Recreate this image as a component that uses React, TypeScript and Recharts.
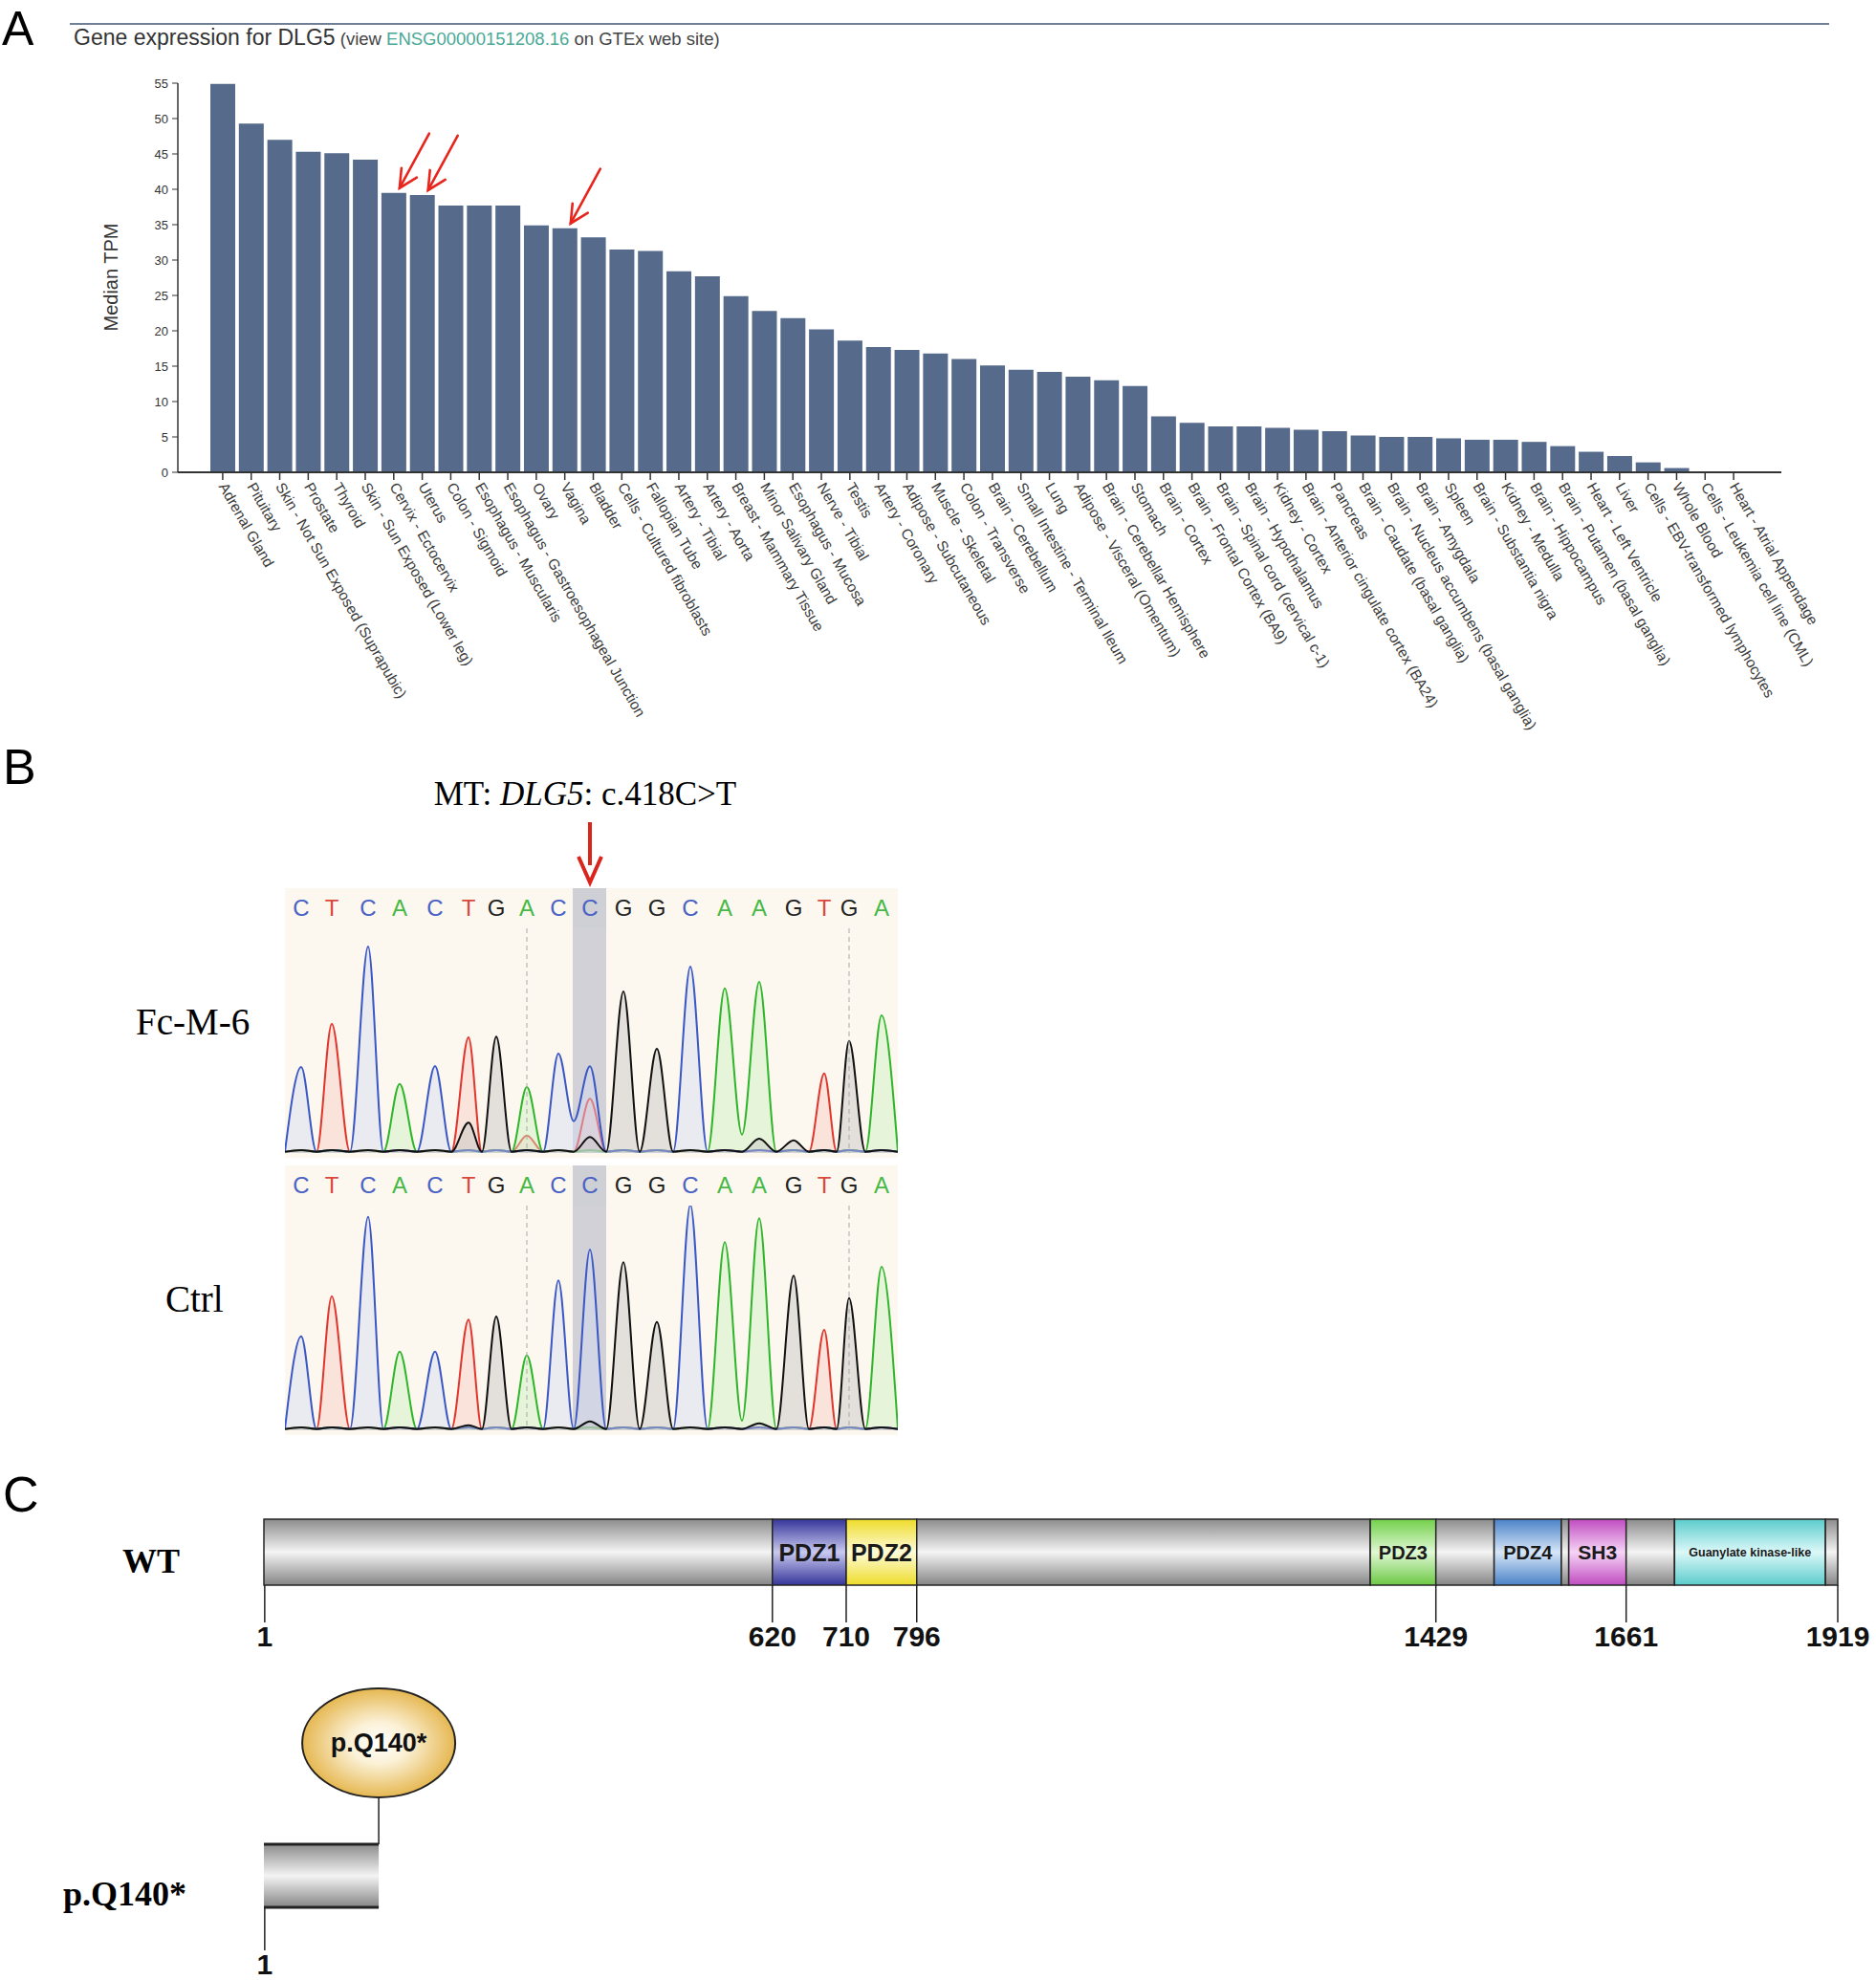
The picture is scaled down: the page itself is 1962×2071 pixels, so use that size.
import React from 'react';
import {
  BarChart, Bar, XAxis, YAxis, LabelList,
  AreaChart, Area, ReferenceArea, ReferenceLine,
} from 'recharts';

// ---------- A: GTEx median TPM for DLG5 ----------
const tissues = [
  'Adrenal Gland', 'Pituitary', 'Skin - Not Sun Exposed (Suprapubic)', 'Prostate', 'Thyroid',
  'Skin - Sun Exposed (Lower leg)', 'Cervix - Ectocervix', 'Uterus', 'Colon - Sigmoid',
  'Esophagus - Muscularis', 'Esophagus - Gastroesophageal Junction', 'Ovary', 'Vagina', 'Bladder',
  'Cells - Cultured fibroblasts', 'Fallopian Tube', 'Artery - Tibial', 'Artery - Aorta',
  'Breast - Mammary Tissue', 'Minor Salivary Gland', 'Esophagus - Mucosa', 'Nerve - Tibial', 'Testis',
  'Artery - Coronary', 'Adipose - Subcutaneous', 'Muscle - Skeletal', 'Colon - Transverse',
  'Brain - Cerebellum', 'Small Intestine - Terminal Ileum', 'Lung', 'Adipose - Visceral (Omentum)',
  'Brain - Cerebellar Hemisphere', 'Stomach', 'Brain - Cortex', 'Brain - Frontal Cortex (BA9)',
  'Brain - Spinal cord (cervical c-1)', 'Brain - Hypothalamus', 'Kidney - Cortex',
  'Brain - Anterior cingulate cortex (BA24)', 'Pancreas', 'Brain - Caudate (basal ganglia)',
  'Brain - Nucleus accumbens (basal ganglia)', 'Brain - Amygdala', 'Spleen', 'Brain - Substantia nigra',
  'Kidney - Medulla', 'Brain - Hippocampus', 'Brain - Putamen (basal ganglia)', 'Heart - Left Ventricle',
  'Liver', 'Cells - EBV-transformed lymphocytes', 'Whole Blood', 'Cells - Leukemia cell line (CML)',
  'Heart - Atrial Appendage',
];

const medianTPM = [
  54.9, 49.3, 47.0, 45.3, 45.1, 44.2, 39.5, 39.2, 37.7, 37.7, 37.7, 34.9, 34.5, 33.2, 31.5, 31.3, 28.4,
  27.7, 24.9, 22.8, 21.8, 20.2, 18.6, 17.7, 17.3, 16.8, 16.0, 15.1, 14.5, 14.2, 13.5, 13.0, 12.2,
  7.9, 7.0, 6.5, 6.5, 6.3, 6.0, 5.8, 5.2, 5.0, 5.0, 4.8, 4.6, 4.6, 4.3, 3.7, 2.9, 2.3, 1.4, 0.6, 0, 0,
];

const arrowTissues = ['Cervix - Ectocervix', 'Uterus', 'Vagina'];
const tpmTicks = [0, 5, 10, 15, 20, 25, 30, 35, 40, 45, 50, 55];

// ---------- B: Sanger traces ----------
const bases = ['C', 'T', 'C', 'A', 'C', 'T', 'G', 'A', 'C', 'C', 'G', 'G', 'C', 'A', 'A', 'G', 'T', 'G', 'A'];
const basePos = [17, 49, 87, 120, 157, 192, 221, 253, 286, 319, 354, 389, 424, 460, 496, 532, 564, 590, 624];
const valleyPos = [0, 33, 68, 103, 138, 174, 206, 237, 270, 302, 336, 371, 406, 442, 478, 514, 548, 577, 607, 641];

const mtHeights = [270, 405, 648, 217, 273, 363, 365, 207, 312, 272, 507, 327, 585, 517, 537, 407, 250, 352, 432];
const mtMinor = [
  { i: 9, base: 'T', h: 170 }, { i: 5, base: 'G', h: 95 }, { i: 7, base: 'T', h: 55 },
  { i: 9, base: 'G', h: 50 }, { i: 14, base: 'G', h: 45 }, { i: 15, base: 'G', h: 40 },
];
const mtValleys = [{ j: 9, base: 'C', h: 100 }, { j: 14, base: 'A', h: 58 }];

const ctrlHeights = [295, 420, 670, 247, 247, 347, 357, 235, 470, 567, 527, 340, 708, 590, 665, 485, 315, 415, 513];
const ctrlMinor = [{ i: 9, base: 'G', h: 28 }, { i: 5, base: 'G', h: 16 }, { i: 14, base: 'G', h: 22 }];
const ctrlValleys = [{ j: 14, base: 'A', h: 30 }];

const mutIndex = 9;
const dashedAt = [253, 590];
const highlightRange = [301, 336];

// ---------- C: DLG5 protein domains ----------
const domainNames = ['', 'PDZ1', 'PDZ2', '', 'PDZ3', '', 'PDZ4', '', 'SH3', '', 'Guanylate kinase-like', ''];
const domainLengths = [620, 90, 86, 553, 80, 71, 82, 9, 70, 59, 184, 15];
const domainKinds = ['gray', 'pdz1', 'pdz2', 'gray', 'pdz3', 'gray', 'pdz4', 'gray', 'sh3', 'gray', 'gk', 'gray'];
const wtTicks = [1, 620, 710, 796, 1429, 1661, 1919];
const proteinLength = 1919;
const truncatedLength = 140;

const gradients: Record<string, string[]> = {
  gray: ['#8c8c8c', '#f4f4f4', '#858585'],
  pdz1: ['#35359a', '#c9c9f0', '#35359a'],
  pdz2: ['#eedc2a', '#fffbd8', '#eedc2a'],
  pdz3: ['#72d04a', '#e0f8d4', '#6cc844'],
  pdz4: ['#4a82c8', '#d6e6f8', '#4a82c8'],
  sh3: ['#c04cc0', '#f6d4f6', '#c04cc0'],
  gk: ['#5ccccc', '#dcf8f8', '#5ccccc'],
};

const baseStroke: Record<string, string> = { A: '#2fb52a', C: '#3a57c4', G: '#111111', T: '#e0362e' };
const baseFill: Record<string, string> = { A: '#c9efc0', C: '#d2daf4', G: '#c4c4c4', T: '#f5c9c2' };
const letterFill: Record<string, string> = { A: '#46b946', C: '#4a62c4', G: '#222222', T: '#d9473d' };

const tpmData = tissues.map((t, i) => ({ tissue: t, tpm: medianTPM[i], arrow: arrowTissues.includes(t) }));

type Extra = { i?: number; j?: number; base: string; h: number };

const buildTrace = (heights: number[], minor: Extra[], valleys: Extra[]) => {
  const rows: any[] = [];
  valleyPos.forEach((x, j) => {
    const v: any = { x, A: 4, C: 4, G: 4, T: 4 };
    valleys.filter((m) => m.j === j).forEach((m) => { v[m.base] = m.h; });
    rows.push(v);
    if (j < basePos.length) {
      const r: any = { x: basePos[j], A: 9, C: 9, G: 9, T: 9 };
      r[bases[j]] = heights[j];
      minor.filter((m) => m.i === j).forEach((m) => { r[m.base] = m.h; });
      rows.push(r);
    }
  });
  return rows;
};

const mtRows = buildTrace(mtHeights, mtMinor, mtValleys);
const ctrlRows = buildTrace(ctrlHeights, ctrlMinor, ctrlValleys);

const wtRow = [domainLengths.reduce((acc: any, v, i) => ({ ...acc, [`d${i}`]: v }), { name: 'WT' })];
const mutRow = [{ name: 'p.Q140*', len: truncatedLength }];

const SANS = 'Arial, "Liberation Sans", sans-serif';
const SERIF = '"Times New Roman", "Liberation Serif", serif';

const TissueTick = (props: any) => {
  const { x, y, payload } = props;
  return (
    <text x={x} y={y} dy="0.35em" transform={`rotate(60 ${x} ${y})`} fontSize={15.5}
      fontFamily={SANS} fill="#3a3a3a" textAnchor="start">
      {payload.value}
    </text>
  );
};

const ArrowMark = (props: any) => {
  const { x, y, width, value } = props;
  if (!value) return null;
  const tx = x + width / 2 + 6;
  const ty = y - 5;
  return (
    <g stroke="#e8251c" strokeWidth={2.6} strokeLinecap="round" fill="none">
      <line x1={tx} y1={ty} x2={tx + 31} y2={ty - 57} />
      <polyline points={`${tx + 2},${ty - 21} ${tx},${ty} ${tx + 18},${ty - 11}`} />
    </g>
  );
};

const BaseTick = (props: any) => {
  const { x, y, index } = props;
  const b = bases[index];
  return (
    <g>
      {index === mutIndex && <rect x={x - 18} y={y - 29} width={35} height={42} fill="#cfd0d6" />}
      <text x={x} y={y} textAnchor="middle" fontSize={24} fontFamily={SANS} fill={letterFill[b]}>{b}</text>
    </g>
  );
};

const Trace = ({ rows }: { rows: any[] }) => (
  <AreaChart width={641} height={282} data={rows} margin={{ top: 0, right: 0, bottom: 5, left: 0 }}>
    <XAxis dataKey="x" type="number" domain={[0, 641]} orientation="top" ticks={basePos} interval={0}
      tick={<BaseTick />} axisLine={false} tickLine={false} tickSize={0} tickMargin={13} height={42} />
    <YAxis hide domain={[0, 705]} allowDataOverflow />
    <ReferenceArea x1={highlightRange[0]} x2={highlightRange[1]} fill="#c9cad2" fillOpacity={0.85} stroke="none" />
    {dashedAt.map((d) => (
      <ReferenceLine key={d} x={d} stroke="#a8a8a8" strokeDasharray="5 4" strokeWidth={1} />
    ))}
    {['T', 'A', 'C', 'G'].map((b) => (
      <Area key={b} type="monotone" dataKey={b} stroke={baseStroke[b]} strokeWidth={2}
        fill={baseFill[b]} fillOpacity={0.45} dot={false} activeDot={false} isAnimationActive={false} />
    ))}
  </AreaChart>
);

const GradientDefs = () => (
  <defs>
    {Object.entries(gradients).map(([k, c]) => (
      <linearGradient key={k} id={`grad-${k}`} x1="0" y1="0" x2="0" y2="1">
        <stop offset="0%" stopColor={c[0]} />
        <stop offset="50%" stopColor={c[1]} />
        <stop offset="100%" stopColor={c[2]} />
      </linearGradient>
    ))}
    <radialGradient id="grad-gold" cx="50%" cy="50%" r="55%">
      <stop offset="0%" stopColor="#ffffff" />
      <stop offset="35%" stopColor="#fbf1d6" />
      <stop offset="100%" stopColor="#e2ae3c" />
    </radialGradient>
  </defs>
);

const domainLabelSize = [0, 25, 25, 0, 20, 0, 20, 0, 21, 0, 12.5, 0];

const DomainLabel = (props: any) => {
  const { x, y, width, height, text, size } = props;
  return (
    <text x={x + width / 2} y={y + height / 2} textAnchor="middle" dominantBaseline="central"
      fontSize={size} fontWeight="bold" fontFamily={SANS} fill="#1a1a1a">
      {text}
    </text>
  );
};

const TruncShape = (props: any) => {
  const { x, y, width, height } = props;
  const ex = x + width;
  return (
    <g>
      <rect x={x} y={y} width={width} height={height} fill="url(#grad-gray)" />
      <line x1={x} y1={y} x2={ex} y2={y} stroke="#222" strokeWidth={3} />
      <line x1={x} y1={y + height} x2={ex} y2={y + height} stroke="#222" strokeWidth={3} />
      <line x1={ex} y1={y} x2={ex} y2={y - 49} stroke="#222" strokeWidth={1.5} />
      <ellipse cx={ex} cy={y - 106} rx={80} ry={57} fill="url(#grad-gold)" stroke="#222" strokeWidth={2} />
      <text x={ex} y={y - 106} textAnchor="middle" dominantBaseline="central" fontSize={27}
        fontWeight="bold" fontFamily={SANS} fill="#111">p.Q140*</text>
    </g>
  );
};

const posTick = { fontSize: 30, fontWeight: 'bold', fill: '#111', fontFamily: SANS };

export default function App() {
  return (
    <div style={{ position: 'absolute', left: 0, top: 0, width: 1962, height: 2071, background: '#fff' }}>
      {/* A */}
      <div style={{ position: 'absolute', left: 0, top: 0 }}>
        <BarChart width={1962} height={790} data={tpmData} barCategoryGap={2}
          margin={{ top: 87, right: 99, bottom: 0, left: 126 }}>
          <XAxis dataKey="tissue" interval={0} height={296} tick={<TissueTick />} tickSize={8} tickMargin={4}
            padding={{ left: 32, right: 35 }} axisLine={{ stroke: '#333', strokeWidth: 2 }}
            tickLine={{ stroke: '#333', strokeWidth: 1.5 }} />
          <YAxis domain={[0, 55]} ticks={tpmTicks} width={60} tickSize={6} tickMargin={4}
            tick={{ fontSize: 13, fill: '#333', fontFamily: SANS }}
            axisLine={{ stroke: '#333', strokeWidth: 1.5 }} tickLine={{ stroke: '#333' }} />
          <Bar dataKey="tpm" fill="#566b8c" isAnimationActive={false}>
            <LabelList dataKey="arrow" content={<ArrowMark />} />
          </Bar>
        </BarChart>
      </div>

      {/* B */}
      <div style={{ position: 'absolute', left: 298, top: 929, width: 641, height: 282, background: '#fdf8ef' }}>
        <Trace rows={mtRows} />
      </div>
      <div style={{ position: 'absolute', left: 298, top: 1219, width: 641, height: 282, background: '#fdf8ef' }}>
        <Trace rows={ctrlRows} />
      </div>

      {/* C */}
      <div style={{ position: 'absolute', left: 0, top: 1560 }}>
        <BarChart width={1962} height={200} data={wtRow} layout="vertical" barCategoryGap={0}
          margin={{ top: 29, right: 40, bottom: 0, left: 276 }}>
          <GradientDefs />
          <XAxis type="number" domain={[0, proteinLength]} ticks={wtTicks} interval={0} height={102}
            axisLine={false} tickSize={39} tickMargin={4} tickLine={{ stroke: '#222', strokeWidth: 1.5 }}
            tick={posTick} />
          <YAxis type="category" dataKey="name" hide />
          {domainLengths.map((_, i) => (
            <Bar key={i} dataKey={`d${i}`} stackId="wt" fill={`url(#grad-${domainKinds[i]})`}
              stroke="#262626" strokeWidth={1.5} isAnimationActive={false}>
              {domainNames[i] ? (
                <LabelList dataKey={`d${i}`}
                  content={(p: any) => <DomainLabel {...p} text={domainNames[i]} size={domainLabelSize[i]} />} />
              ) : null}
            </Bar>
          ))}
        </BarChart>
      </div>
      <div style={{ position: 'absolute', left: 0, top: 1750 }}>
        <BarChart width={1962} height={321} data={mutRow} layout="vertical" barCategoryGap={0}
          margin={{ top: 179, right: 40, bottom: 0, left: 276 }}>
          <GradientDefs />
          <XAxis type="number" domain={[0, proteinLength]} ticks={[1]} interval={0} height={76}
            axisLine={false} tickSize={45} tickMargin={4} tickLine={{ stroke: '#222', strokeWidth: 1.5 }}
            tick={posTick} />
          <YAxis type="category" dataKey="name" hide />
          <Bar dataKey="len" shape={<TruncShape />} isAnimationActive={false} />
        </BarChart>
      </div>

      {/* annotations */}
      <svg width={1962} height={2071} style={{ position: 'absolute', left: 0, top: 0, pointerEvents: 'none' }}>
        <text x={2} y={47} fontSize={50} fontFamily={SANS} fill="#000">A</text>
        <text x={3} y={820} fontSize={52} fontFamily={SANS} fill="#000">B</text>
        <text x={3} y={1581} fontSize={52} fontFamily={SANS} fill="#000">C</text>

        <line x1={73} y1={25} x2={1913} y2={25} stroke="#6f7f96" strokeWidth={2} />
        <text x={77} y={47} fontFamily={SANS} fill="#333">
          <tspan fontSize={23}>Gene expression for DLG5</tspan>
          <tspan fontSize={18.5} fill="#444"> (view </tspan>
          <tspan fontSize={18.5} fill="#4aa996">ENSG00000151208.16</tspan>
          <tspan fontSize={18.5} fill="#444"> on GTEx web site)</tspan>
        </text>
        <text x={123} y={290} transform="rotate(-90 123 290)" textAnchor="middle" fontSize={20}
          fontFamily={SANS} fill="#333">Median TPM</text>

        <text x={612} y={842} textAnchor="middle" fontSize={35} fontFamily={SERIF} fill="#000">
          MT: <tspan fontStyle="italic">DLG5</tspan>: c.418C&gt;T
        </text>
        <line x1={617} y1={860} x2={617} y2={905} stroke="#d9261c" strokeWidth={4} />
        <polyline points="605,896 617,923 629,896" stroke="#d9261c" strokeWidth={4} fill="none" />
        <text x={142} y={1082} fontSize={39} fontFamily={SERIF} fill="#000">Fc-M-6</text>
        <text x={173} y={1372} fontSize={39} fontFamily={SERIF} fill="#000">Ctrl</text>

        <text x={128} y={1645} fontSize={36} fontWeight="bold" fontFamily={SERIF} fill="#000">WT</text>
        <text x={66} y={1993} fontSize={36} fontWeight="bold" fontFamily={SERIF} fill="#000">p.Q140*</text>
      </svg>
    </div>
  );
}
